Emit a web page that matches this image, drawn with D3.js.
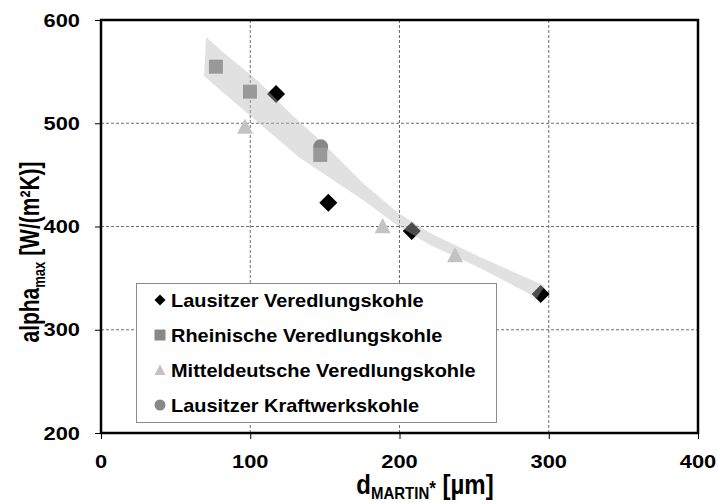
<!DOCTYPE html>
<html><head><meta charset="utf-8">
<script src="https://cdn.jsdelivr.net/npm/d3@7"></script>
<style>body{margin:0;background:#fff}svg{display:block}text{font-family:"Liberation Sans",Arial,sans-serif;font-weight:bold;fill:#000}</style>
</head><body><svg id="c" width="718" height="503"></svg>
<script>
// ---- data ----
const xTicks = [0, 100, 200, 300, 400];
const yTicks = [200, 300, 400, 500, 600];
const seriesNames = ["Lausitzer Veredlungskohle","Rheinische Veredlungskohle","Mitteldeutsche Veredlungskohle","Lausitzer Kraftwerkskohle"];
const lvX = [117.3, 152.3, 208.2, 294.6];
const lvY = [528.3, 423.0, 395.6, 334.6];
const rvX = [77.0, 99.8, 146.9];
const rvY = [554.8, 530.6, 469.3];
const mvX = [96.5, 188.7, 237.2];
const mvY = [496.8, 400.5, 372.4];
const lkX = [147.2];
const lkY = [477.3];
// trend band (upper / lower edges)
const bandUpX = [70.4, 81.7, 104.5, 126.6, 148.7, 175.5, 198.3, 220.4, 253.9, 297.5];
const bandUpY = [583.5, 569.0, 541.9, 510.0, 480.9, 442.1, 414.0, 393.7, 370.5, 342.4];
const bandLoX = [69.0, 93.1, 115.2, 133.3, 153.4, 175.5, 198.3, 220.4, 253.9, 292.1];
const bandLoY = [545.8, 515.7, 488.6, 466.3, 446.9, 425.7, 401.5, 382.1, 359.8, 330.8];

// ---- layout ----
const svg = d3.select("#c");
const L = 101, R = 698, T = 20, B = 433;
const x = d3.scaleLinear().domain([0, 400]).range([L, R]);
const y = d3.scaleLinear().domain([200, 600]).range([B, T]);
const SX = 1.25; // horizontal glyph stretch

// grid
svg.append("g").selectAll("line").data(xTicks.slice(1, -1)).join("line")
  .attr("x1", d => x(d)).attr("x2", d => x(d)).attr("y1", T).attr("y2", B)
  .attr("stroke", "#6e6e6e").attr("stroke-width", 1).attr("stroke-dasharray", "3,2");
svg.append("g").selectAll("line").data(yTicks.slice(1, -1)).join("line")
  .attr("y1", d => y(d)).attr("y2", d => y(d)).attr("x1", L).attr("x2", R)
  .attr("stroke", "#6e6e6e").attr("stroke-width", 1).attr("stroke-dasharray", "3,2");

// axes
const yAxis = svg.append("g").attr("transform", `translate(${L},0)`)
  .call(d3.axisLeft(y).tickValues(yTicks).tickSize(6).tickFormat(""));
const xAxis = svg.append("g").attr("transform", `translate(0,${B})`)
  .call(d3.axisBottom(x).tickValues(xTicks).tickSize(6).tickFormat(""));
[yAxis, xAxis].forEach(a => { a.select(".domain").remove(); a.selectAll("line").attr("stroke", "#000"); });

function stext(sel, tx, ty, str, size, anchor, sx) {
  return sel.append("text").attr("transform", `translate(${tx},${ty}) scale(${sx || SX},1)`)
    .attr("font-size", size).attr("text-anchor", anchor).text(str);
}
yTicks.forEach(v => stext(svg, 80, y(v) + 6.5, String(v), 17.5, "end"));
xTicks.forEach(v => stext(svg, x(v), 468, String(v), 17.5, "middle"));

// markers
function markerPath(type, s) {
  const h = s / 2;
  if (type === "diamond") return `M0,${-h}L${h},0L0,${h}L${-h},0Z`;
  if (type === "square") return `M${-h},${-h}H${h}V${h}H${-h}Z`;
  if (type === "triangle") return `M0,${-h}L${h},${h * 0.9}L${-h},${h * 0.9}Z`;
  return `M${h},0A${h},${h} 0 1,1 ${-h},0A${h},${h} 0 1,1 ${h},0Z`;
}
function drawPts(xs, ys, type, size, fill) {
  svg.append("g").selectAll("path").data(xs.map((d, i) => [d, ys[i]])).join("path")
    .attr("transform", d => `translate(${x(d[0])},${y(d[1])})`)
    .attr("d", markerPath(type, size)).attr("fill", fill);
}

drawPts(lvX, lvY, "diamond", 18, "#000");

// band
const upPts = bandUpX.map((d, i) => [x(d), y(bandUpY[i])]);
const loPts = bandLoX.map((d, i) => [x(d), y(bandLoY[i])]).reverse();
svg.append("path").attr("d", d3.line()(upPts.concat(loPts)) + "Z")
  .attr("fill", "#b8b8b8").attr("fill-opacity", 0.42);

drawPts(lkX, lkY, "circle", 15, "#888888");
drawPts(rvX, rvY, "square", 14, "#999999");
drawPts(mvX, mvY, "triangle", 16, "#c3c3c3");

// frame
svg.append("rect").attr("x", L).attr("y", T).attr("width", R - L).attr("height", B - T)
  .attr("fill", "none").attr("stroke", "#000").attr("stroke-width", 2.5);

// legend
const lg = svg.append("g");
lg.append("rect").attr("x", 136.5).attr("y", 283.5).attr("width", 360).attr("height", 139)
  .attr("fill", "#fff").attr("stroke", "#8a8a8a").attr("stroke-width", 1);
const legTypes = [["diamond", 11, "#000"], ["square", 11, "#888888"], ["triangle", 11, "#c3c3c3"], ["circle", 11, "#888888"]];
seriesNames.forEach((n, i) => {
  const cy = 300 + i * 35;
  lg.append("path").attr("transform", `translate(160,${cy})`)
    .attr("d", markerPath(legTypes[i][0], legTypes[i][1])).attr("fill", legTypes[i][2]);
  stext(lg, 171, cy + 6.5, n, 17.5, "start", 1.14);
});

// axis titles
const yt = svg.append("text").attr("transform", "translate(39,252) scale(1.3,1) rotate(-90)")
  .attr("text-anchor", "middle").attr("font-size", 21);
yt.append("tspan").text("alpha");
yt.append("tspan").attr("font-size", 13).attr("dy", 4.5).text("max");
yt.append("tspan").attr("dy", -4.5).text(" [W/(m²K)]");

const xt = svg.append("text").attr("transform", "translate(425,494) scale(1,1.15)")
  .attr("text-anchor", "middle").attr("font-size", 24);
xt.append("tspan").text("d");
xt.append("tspan").attr("font-size", 15).attr("dy", 4).text("MARTIN");
xt.append("tspan").attr("font-size", 17).attr("dy", -3).text("*");
xt.append("tspan").attr("dy", -1).text(" [µm]");
</script></body></html>
